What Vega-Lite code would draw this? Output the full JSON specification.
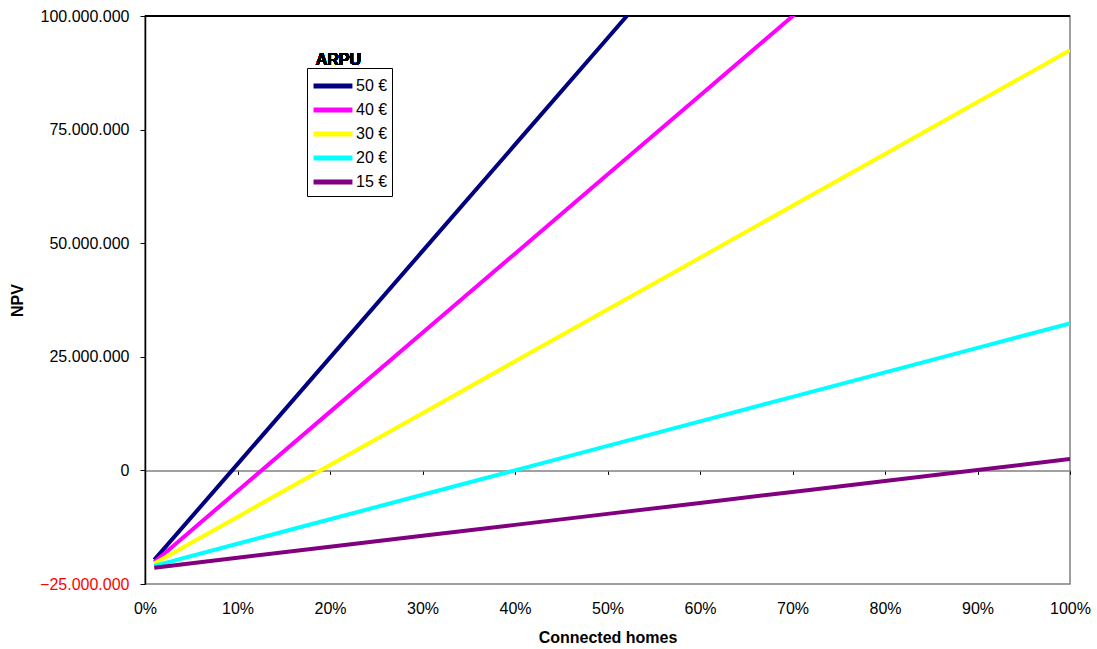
{
  "$schema": "https://vega.github.io/schema/vega-lite/v6.json",
  "width": 925,
  "height": 568,
  "autosize": {"type": "none"},
  "padding": {"left": 145, "top": 16, "right": 27, "bottom": 65},
  "background": "white",
  "config": {
    "locale": {"number": {"decimal": ",", "thousands": ".", "grouping": [3], "currency": ["", " €"]}},
    "font": "Liberation Sans",
    "view": {"stroke": "#808080", "strokeWidth": 1.5}
  },
  "data": {"values": [
    {"x": 0.01, "npv": -19700000, "arpu": "50 €"},
    {"x": 0.1, "npv": 1390000, "arpu": "50 €"},
    {"x": 0.2, "npv": 24820000, "arpu": "50 €"},
    {"x": 0.3, "npv": 48250000, "arpu": "50 €"},
    {"x": 0.4, "npv": 71680000, "arpu": "50 €"},
    {"x": 0.5, "npv": 95110000, "arpu": "50 €"},
    {"x": 0.6, "npv": 118540000, "arpu": "50 €"},
    {"x": 0.7, "npv": 141970000, "arpu": "50 €"},
    {"x": 0.8, "npv": 165400000, "arpu": "50 €"},
    {"x": 0.9, "npv": 188830000, "arpu": "50 €"},
    {"x": 1.0, "npv": 212260000, "arpu": "50 €"},
    {"x": 0.01, "npv": -20200000, "arpu": "40 €"},
    {"x": 0.1, "npv": -4530000, "arpu": "40 €"},
    {"x": 0.2, "npv": 12880000, "arpu": "40 €"},
    {"x": 0.3, "npv": 30290000, "arpu": "40 €"},
    {"x": 0.4, "npv": 47700000, "arpu": "40 €"},
    {"x": 0.5, "npv": 65110000, "arpu": "40 €"},
    {"x": 0.6, "npv": 82520000, "arpu": "40 €"},
    {"x": 0.7, "npv": 99930000, "arpu": "40 €"},
    {"x": 0.8, "npv": 117340000, "arpu": "40 €"},
    {"x": 0.9, "npv": 134750000, "arpu": "40 €"},
    {"x": 1.0, "npv": 152160000, "arpu": "40 €"},
    {"x": 0.01, "npv": -20500000, "arpu": "30 €"},
    {"x": 0.1, "npv": -10230000, "arpu": "30 €"},
    {"x": 0.2, "npv": 1180000, "arpu": "30 €"},
    {"x": 0.3, "npv": 12590000, "arpu": "30 €"},
    {"x": 0.4, "npv": 24000000, "arpu": "30 €"},
    {"x": 0.5, "npv": 35410000, "arpu": "30 €"},
    {"x": 0.6, "npv": 46820000, "arpu": "30 €"},
    {"x": 0.7, "npv": 58230000, "arpu": "30 €"},
    {"x": 0.8, "npv": 69640000, "arpu": "30 €"},
    {"x": 0.9, "npv": 81050000, "arpu": "30 €"},
    {"x": 1.0, "npv": 92460000, "arpu": "30 €"},
    {"x": 0.01, "npv": -21000000, "arpu": "20 €"},
    {"x": 0.1, "npv": -16150000, "arpu": "20 €"},
    {"x": 0.2, "npv": -10760000, "arpu": "20 €"},
    {"x": 0.3, "npv": -5370000, "arpu": "20 €"},
    {"x": 0.4, "npv": 20000, "arpu": "20 €"},
    {"x": 0.5, "npv": 5410000, "arpu": "20 €"},
    {"x": 0.6, "npv": 10800000, "arpu": "20 €"},
    {"x": 0.7, "npv": 16190000, "arpu": "20 €"},
    {"x": 0.8, "npv": 21580000, "arpu": "20 €"},
    {"x": 0.9, "npv": 26970000, "arpu": "20 €"},
    {"x": 1.0, "npv": 32360000, "arpu": "20 €"},
    {"x": 0.01, "npv": -21400000, "arpu": "15 €"},
    {"x": 0.1, "npv": -19230000, "arpu": "15 €"},
    {"x": 0.2, "npv": -16810000, "arpu": "15 €"},
    {"x": 0.3, "npv": -14400000, "arpu": "15 €"},
    {"x": 0.4, "npv": -11990000, "arpu": "15 €"},
    {"x": 0.5, "npv": -9570000, "arpu": "15 €"},
    {"x": 0.6, "npv": -7160000, "arpu": "15 €"},
    {"x": 0.7, "npv": -4750000, "arpu": "15 €"},
    {"x": 0.8, "npv": -2330000, "arpu": "15 €"},
    {"x": 0.9, "npv": 80000, "arpu": "15 €"},
    {"x": 1.0, "npv": 2500000, "arpu": "15 €"}
  ]},
  "layer": [
    {
      "mark": {"type": "rule", "color": "black", "strokeWidth": 1.5},
      "encoding": {"y": {"datum": 100000000, "scale": {"domain": [-25000000, 100000000], "nice": false}}}
    },
    {
      "mark": {"type": "line", "strokeWidth": 4, "clip": true},
      "encoding": {
        "x": {
          "field": "x", "type": "quantitative",
          "scale": {"domain": [0, 1], "nice": false},
          "axis": {
            "values": [0, 0.1, 0.2, 0.3, 0.4, 0.5, 0.6, 0.7, 0.8, 0.9, 1.0],
            "format": ".0%",
            "offset": -113.6,
            "domainColor": "#808080", "domainWidth": 1.5,
            "tickColor": "black", "tickSize": 4, "tickWidth": 1,
            "labelPadding": 126, "labelFontSize": 16, "labelColor": "black",
            "labelFlush": false,
            "grid": false,
            "title": "Connected homes", "titleFontSize": 16, "titleFontWeight": "bold",
            "titleColor": "black", "titlePadding": 13
          }
        },
        "y": {
          "field": "npv", "type": "quantitative",
          "scale": {"domain": [-25000000, 100000000], "nice": false},
          "axis": {
            "values": [-25000000, 0, 25000000, 50000000, 75000000, 100000000],
            "format": ",.0f",
            "domainColor": "black", "domainWidth": 1.5,
            "tickColor": "black", "tickSize": 5,
            "labelPadding": 11, "labelFontSize": 16,
            "labelColor": {"condition": {"test": "datum.value < 0", "value": "#FF0000"}, "value": "black"},
            "grid": false,
            "title": "NPV", "titleFontSize": 16, "titleFontWeight": "bold",
            "titleColor": "black", "titlePadding": 14
          }
        },
        "color": {
          "field": "arpu", "type": "nominal",
          "scale": {"domain": ["50 €", "40 €", "30 €", "20 €", "15 €"], "range": ["#000080", "#FF00FF", "#FFFF00", "#00FFFF", "#800080"]},
          "legend": {
            "title": null,
            "orient": "none", "legendX": 162, "legendY": 52,
            "strokeColor": "black", "fillColor": "white", "padding": 4,
            "symbolType": "M-1,0H2.39", "symbolStrokeWidth": 5, "symbolSize": 527,
            "labelFontSize": 16, "labelColor": "black", "labelOffset": 17,
            "rowPadding": 0
          }
        }
      }
    },
    {
      "mark": {"type": "text", "fontWeight": "bold", "fontSize": 16, "color": "black", "align": "center", "baseline": "middle"},
      "encoding": {
        "x": {"datum": 0.209},
        "y": {"datum": 90400000},
        "text": {"value": "ARPU"}
      }
    }
  ]
}
